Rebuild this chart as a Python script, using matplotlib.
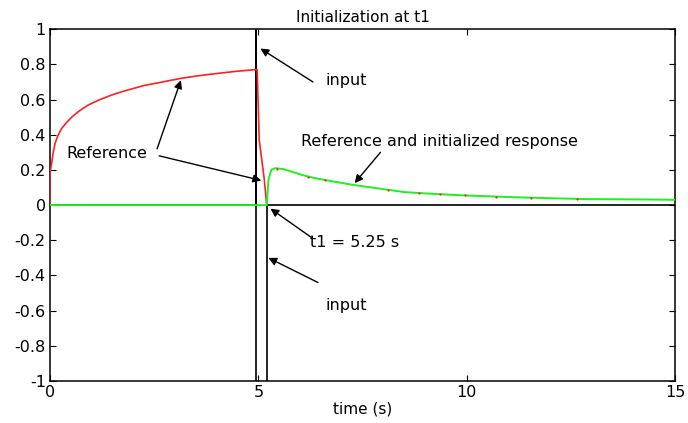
import matplotlib
matplotlib.use("Agg")
import matplotlib.pyplot as plt

plt.rcParams['font.family'] = ['DejaVu Sans']

# reference (red)
ref_t = [0, 0.0, 0.01, 0.04, 0.07, 0.12, 0.18, 0.28, 0.4, 0.52, 0.7, 0.91, 1.15,
         1.47, 1.8, 2.26, 2.7, 3.13, 3.55, 4.0, 4.45, 4.92,
         4.97, 5.0, 5.02, 5.14, 5.2]
ref_y = [0, 0.18, 0.20, 0.237, 0.29, 0.35, 0.39, 0.436, 0.47, 0.50, 0.535, 0.568, 0.595,
         0.625, 0.65, 0.68, 0.70, 0.72, 0.735, 0.748, 0.76, 0.77,
         0.77, 0.54, 0.37, 0.15, 0.0]

# initialized response (green)
resp_t = [0, 5.2, 5.24, 5.31, 5.4, 5.6, 5.8, 6.07, 6.36, 6.8, 7.3, 7.9, 8.5, 9.1,
          9.76, 10.4, 11.1, 12.0, 12.9, 13.6, 14.3, 15]
resp_y = [0, 0, 0.14, 0.20, 0.21, 0.205, 0.19, 0.17, 0.153, 0.134, 0.114, 0.094, 0.074, 0.065,
          0.057, 0.051, 0.045, 0.039, 0.034, 0.033, 0.032, 0.03]

# red samples peeking out under the green tail
dot_t = [5.45, 6.2, 6.6, 8.1, 8.85, 9.35, 9.95, 10.7, 11.55, 12.65]
dot_y = [0.208, 0.16, 0.145, 0.088, 0.068, 0.062, 0.055, 0.048, 0.042, 0.035]

# input (black)
in_t = [0, 4.95, 4.95, 4.95, 5.2, 5.2, 15]
in_y = [0, 0, 2, -2, -2, 0, 0]

fig = plt.figure(figsize=(6.88, 4.23), dpi=100)
ax = fig.add_axes([0.0727, 0.0993, 0.9085, 0.8317])

ax.plot(in_t, in_y, color='black', lw=1.2, zorder=2)
ax.plot(ref_t, ref_y, color='#ff2020', lw=1.2, zorder=3)
ax.plot(resp_t, resp_y, color='#22ee22', lw=1.4, zorder=4)
ax.plot(dot_t, dot_y, ls='none', marker='o', ms=1.6, color='#ff2020', mec='none', zorder=5)

ax.set_xlim(0, 15)
ax.set_ylim(-1, 1)
ax.set_xticks([0, 5, 10, 15])
ax.set_yticks([-1, -0.8, -0.6, -0.4, -0.2, 0, 0.2, 0.4, 0.6, 0.8, 1])
ax.set_yticklabels(['-1', '-0.8', '-0.6', '-0.4', '-0.2', '0', '0.2', '0.4', '0.6', '0.8', '1'])
ax.tick_params(direction='in', top=True, right=True, length=4, labelsize=11.5, pad=3)
for s in ax.spines.values():
    s.set_linewidth(1.1)

ax.set_title('Initialization at t1', fontsize=11, pad=5)
ax.set_xlabel('time (s)', fontsize=11, labelpad=1)

arr = dict(arrowstyle='-|>', color='black', lw=1.0, mutation_scale=12, shrinkA=0, shrinkB=0)
fs = 11.5
ax.annotate('', xy=(5.05, 0.89), xytext=(6.31, 0.70), arrowprops=arr)
ax.text(6.62, 0.71, 'input', fontsize=fs, va='center')
ax.annotate('', xy=(5.24, -0.30), xytext=(6.43, -0.44), arrowprops=arr)
ax.text(6.62, -0.57, 'input', fontsize=fs, va='center')
ax.annotate('', xy=(5.29, -0.02), xytext=(6.31, -0.19), arrowprops=arr)
ax.text(6.24, -0.215, 't1 = 5.25 s', fontsize=fs, va='center')
ax.text(0.4, 0.295, 'Reference', fontsize=fs, va='center')
ax.annotate('', xy=(3.14, 0.71), xytext=(2.57, 0.32), arrowprops=arr)
ax.annotate('', xy=(5.07, 0.14), xytext=(2.62, 0.28), arrowprops=arr)
ax.text(6.02, 0.36, 'Reference and initialized response', fontsize=fs, va='center')
ax.annotate('', xy=(7.31, 0.125), xytext=(7.93, 0.30), arrowprops=arr)

fig.savefig('out.png', dpi=100)
